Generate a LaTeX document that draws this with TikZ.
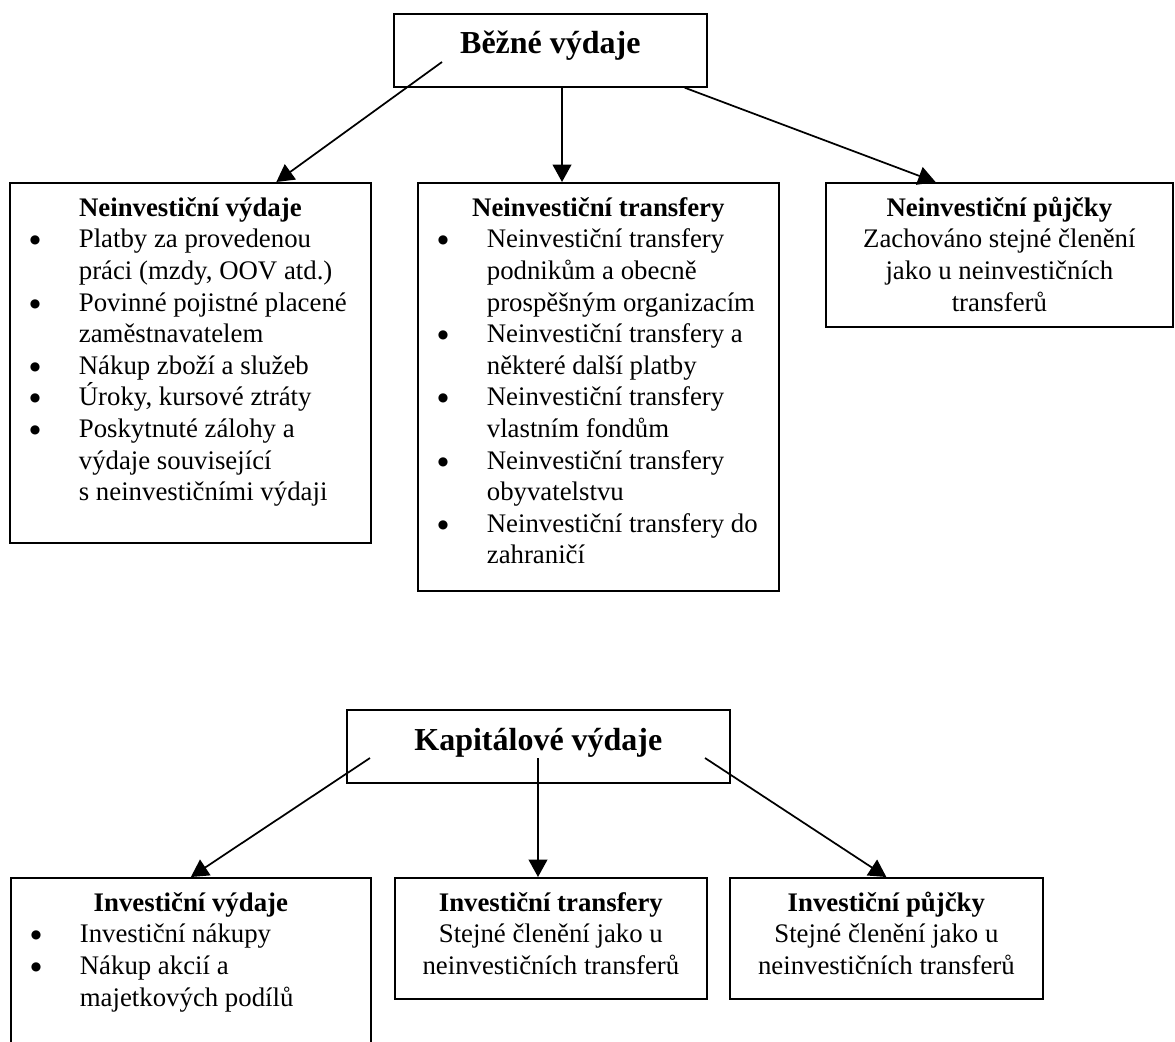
\documentclass[tikz,border=0pt]{standalone}
\usepackage{fontspec}
\setmainfont{Liberation Serif}
\newfontfamily\teckafont{DejaVu Sans}
\usetikzlibrary{arrows.meta, positioning, calc}

% obsah krabice: sirka, vyska, text
\newcommand{\krabice}[3]{\parbox[c][#2][t]{#1}{#3}}
\newcommand{\nadpis}[1]{{\centering\bfseries\rule{0pt}{25pt}#1\par}}
\newcommand{\tecka}{\raisebox{3pt}{\teckafont\fontsize{9pt}{9pt}\selectfont ●}}
\newcommand{\bod}[1]{\hspace*{15pt}\makebox[36.75pt][l]{\tecka}#1\par}
\newcommand{\dal}[1]{\hspace*{51.75pt}#1\par}

\begin{document}
\begin{tikzpicture}[x=0.75pt, y=-0.75pt,
    box/.style={draw, line width=1.3pt, inner sep=0pt, anchor=north west,
                font=\fontsize{20.1pt}{23.7pt}\selectfont},
    hlavni/.style={box, font=\fontsize{24pt}{28pt}\selectfont\bfseries},
    arr/.style={-{Triangle[length=13pt, width=14pt]}, line width=1.3pt}]
    \useasboundingbox (0,0) rectangle (1175,1042);
    \clip (0,0) rectangle (1175,1042);

    % Běžné výdaje
    \node[hlavni] (bv) at (393,13)
        {\krabice{234.75pt}{54.75pt}{\centering\rule{0pt}{30pt}Běžné výdaje}};

    \node[box] (nv) at (9,182) {\krabice{270.75pt}{270pt}{%
        \nadpis{Neinvestiční výdaje}
        \bod{Platby za provedenou}
        \dal{práci (mzdy, OOV atd.)}
        \bod{Povinné pojistné placené}
        \dal{zaměstnavatelem}
        \bod{Nákup zboží a služeb}
        \bod{Úroky, kursové ztráty}
        \bod{Poskytnuté zálohy a}
        \dal{výdaje související}
        \dal{s neinvestičními výdaji}}};

    \node[box] (nt) at (417,182) {\krabice{270.75pt}{306pt}{%
        \nadpis{Neinvestiční transfery}
        \bod{Neinvestiční transfery}
        \dal{podnikům a obecně}
        \dal{prospěšným organizacím}
        \bod{Neinvestiční transfery a}
        \dal{některé další platby}
        \bod{Neinvestiční transfery}
        \dal{vlastním fondům}
        \bod{Neinvestiční transfery}
        \dal{obyvatelstvu}
        \bod{Neinvestiční transfery do}
        \dal{zahraničí}}};

    \node[box] (np) at (825,182) {\krabice{260.25pt}{108pt}{\centering
        \nadpis{Neinvestiční půjčky}
        Zachováno stejné členění\par
        jako u neinvestičních\par
        transferů\par}};

    % šipky z běžných výdajů
    \coordinate (bl) at (442,62);
    \coordinate (bs) at ($(bv.south west)!0.537!(bv.south east)$);
    \coordinate (bp) at ($(bv.south west)!0.927!(bv.south east)$);
    \draw[arr] (bl) -- ($(nv.north west)!0.737!(nv.north east)$);
    \draw[arr] (bs) -- (bs |- nt.north);
    \draw[arr] (bp) -- ($(np.north west)!0.317!(np.north east)$);

    % Kapitálové výdaje
    \node[hlavni] (kv) at (346,709)
        {\krabice{287.25pt}{54.75pt}{\centering\rule{0pt}{30.75pt}Kapitálové výdaje}};

    \node[box] (iv) at (10,877) {\krabice{270pt}{135pt}{%
        \nadpis{Investiční výdaje}
        \bod{Investiční nákupy}
        \bod{Nákup akcií a}
        \dal{majetkových podílů}}};

    \node[box] (it) at (394,877) {\krabice{234pt}{90.75pt}{\centering
        \nadpis{Investiční transfery}
        Stejné členění jako u\par
        neinvestičních transferů\par}};

    \node[box] (ip) at (729,877) {\krabice{234.75pt}{90.75pt}{\centering
        \nadpis{Investiční půjčky}
        Stejné členění jako u\par
        neinvestičních transferů\par}};

    % šipky z kapitálových výdajů
    \coordinate (kl) at (370,758);
    \coordinate (ks) at (538,758);
    \coordinate (kr) at (705,758);
    \draw[arr] (kl) -- (iv.north);
    \draw[arr] (ks) -- (ks |- it.north);
    \draw[arr] (kr) -- (ip.north);
\end{tikzpicture}
\end{document}
